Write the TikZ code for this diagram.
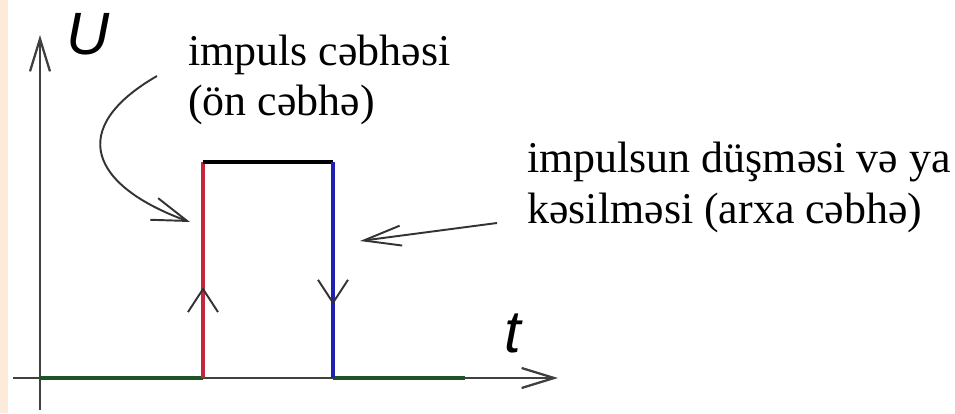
\documentclass[tikz,border=0pt]{standalone}
\usepackage{fontspec}
\setmainfont{Liberation Serif}
\newfontfamily\axisfont{Liberation Sans}
\usetikzlibrary{arrows.meta,decorations.markings}
\definecolor{leadred}{RGB}{196,38,62}
\definecolor{trailblue}{RGB}{32,32,176}
\definecolor{basegreen}{RGB}{28,84,40}
\definecolor{sidepeach}{RGB}{252,234,218}
\tikzset{
  axisline/.style={
    line width=1.3pt,
    draw=black!75,
    -{Straight Barb[length=6.5mm,width=4mm,line width=1.3pt]}
  },
  pulseline/.style={line width=2.3pt},
  notearrow/.style={
    line width=1.1pt,
    draw=black!80,
    -{Straight Barb[length=7mm,width=4.6mm,line width=1.1pt]}
  },
  axislabel/.style={inner sep=0pt, font=\axisfont\itshape\fontsize{34}{34}\selectfont},
  notetext/.style={
    inner sep=0pt,
    anchor=base west,
    align=left,
    font=\fontsize{25}{28.5}\selectfont
  },
  chevron/.style={
    postaction={decorate},
    decoration={markings, mark=at position #1 with
      {\arrow[black!80]{Straight Barb[length=4.6mm,width=6mm,line width=1.1pt]}}}
  }
}

\begin{document}
\begin{tikzpicture}[x=0.02cm, y=0.02cm]
  \useasboundingbox (0,0) rectangle (955,413);
  \fill[sidepeach] (0,0) rectangle (8,413);

  % axes
  \coordinate (origin) at (40,35);
  \coordinate (xstart) at (13,35);
  \coordinate (xend) at (558,35);
  \coordinate (ystart) at (40,3);
  \coordinate (yend) at (40,378);
  \draw[axisline] (xstart) -- (xend);
  \draw[axisline] (ystart) -- (yend);
  \node[axislabel] (ulabel) at (88,379) {U};
  \node[axislabel] (tlabel) at (513,80) {t};

  % pulse
  \coordinate (risebot) at (203,35);
  \coordinate (risetop) at (203,251);
  \coordinate (falltop) at (333,251);
  \coordinate (fallbot) at (333,35);
  \coordinate (greenend) at (465,35);
  \draw[pulseline, basegreen, line width=2.8pt] (origin) -- (risebot);
  \draw[pulseline, basegreen, line width=2.8pt] (fallbot) -- (greenend);
  \draw[pulseline, leadred, chevron=0.42] (risebot) -- (risetop);
  \draw[pulseline, black] (risetop) -- (falltop);
  \draw[pulseline, trailblue, chevron=0.66] (falltop) -- (fallbot);

  % notes (base = last line)
  \node[notetext] (leadnote) at (188,297) {impuls cəbhəsi\\(ön cəbhə)};
  \node[notetext] (trailnote) at (527,190) {impulsun düşməsi və ya\\kəsilməsi (arxa cəbhə)};
  \coordinate (leadtail) at (157,337);
  \coordinate (leadtip) at (190,191);
  \coordinate (trailtail) at (497,190);
  \coordinate (trailtip) at (360,172);
  \draw[notearrow] (leadtail) to[out=210, in=160, looseness=1.8] (leadtip);
  \draw[notearrow, -{Straight Barb[length=7.5mm,width=4mm,line width=1.1pt]}] (trailtail) -- (trailtip);
\end{tikzpicture}
\end{document}
